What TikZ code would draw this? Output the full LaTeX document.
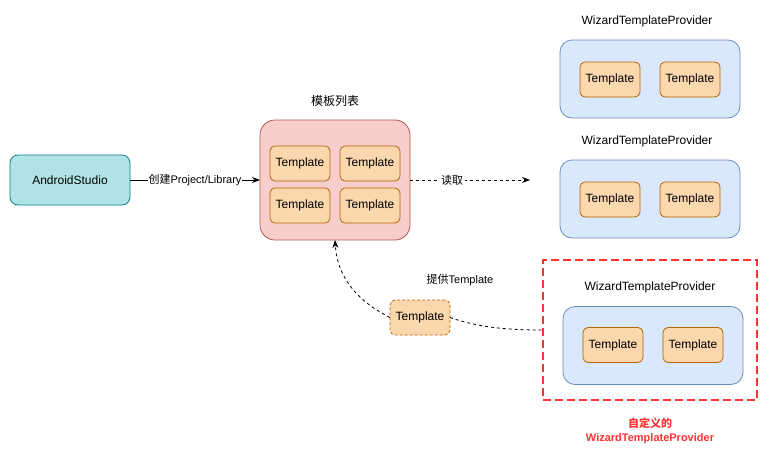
\documentclass[tikz,border=0pt]{standalone}
\usepackage{fontspec}
\setmainfont{Liberation Sans}
\newfontfamily\cjk{Noto Sans CJK SC}
\usetikzlibrary{arrows.meta}
\definecolor{asfill}{HTML}{B0E3E6}
\definecolor{asline}{HTML}{0E8088}
\definecolor{lsfill}{HTML}{F8CECC}
\definecolor{lsline}{HTML}{B85450}
\definecolor{tpfill}{HTML}{FAD7AC}
\definecolor{tpline}{HTML}{B46504}
\definecolor{pvfill}{HTML}{DAE8FC}
\definecolor{pvline}{HTML}{6C8EBF}
\definecolor{redc}{HTML}{FF3333}
\tikzset{
  every node/.style={inner sep=0pt, outer sep=0pt},
  tpl/.style={draw=tpline, fill=tpfill, rounded corners=5pt, minimum width=60pt, minimum height=35pt, font=\fontsize{12pt}{14pt}\selectfont, line width=0.8pt},
  prov/.style={draw=pvline, fill=pvfill, rounded corners=12pt, minimum width=180pt, minimum height=78pt, line width=0.8pt},
  ttl/.style={font=\fontsize{12pt}{14pt}\selectfont},
  lbl/.style={font=\fontsize{11pt}{13pt}\selectfont},
  arr/.style={-{Stealth[length=8pt,width=6pt]}, line width=0.8pt},
}
\begin{document}
\begin{tikzpicture}[x=1pt,y=-1pt]
\useasboundingbox (0,0) rectangle (769,461);
% AndroidStudio
\node[draw=asline, fill=asfill, rounded corners=8pt, minimum width=120pt, minimum height=50pt, line width=0.8pt, font=\fontsize{12pt}{14pt}\selectfont] (as) at (70,180) {AndroidStudio};
% Template list
\node[draw=lsline, fill=lsfill, rounded corners=15pt, minimum width=150pt, minimum height=120pt, line width=0.8pt] (list) at (335,180) {};
\node[ttl] (listttl) at (335,101) {\cjk 模板列表};
\node[tpl] (l1) at (300,163.5) {Template};
\node[tpl] (l2) at (370,163.5) {Template};
\node[tpl] (l3) at (300,205.5) {Template};
\node[tpl] (l4) at (370,205.5) {Template};
% Provider 1
\node[ttl] (p1ttl) at (647,21) {WizardTemplateProvider};
\node[prov] (p1) at (650,79) {};
\node[tpl] (p1a) at (610,79.5) {Template};
\node[tpl] (p1b) at (690,79.5) {Template};
% Provider 2
\node[ttl] (p2ttl) at (647,141) {WizardTemplateProvider};
\node[prov] (p2) at (650,199) {};
\node[tpl] (p2a) at (610,199.5) {Template};
\node[tpl] (p2b) at (690,199.5) {Template};
% Custom provider
\node[draw=redc, dashed, dash pattern=on 8pt off 4pt, line width=1.6pt, minimum width=214pt, minimum height=140pt] (cust) at (650,330) {};
\node[ttl] (p3ttl) at (650,287) {WizardTemplateProvider};
\node[prov] (p3) at (653,345.5) {};
\node[tpl] (p3a) at (613,345) {Template};
\node[tpl] (p3b) at (693,345) {Template};
\node[font=\fontsize{11pt}{13pt}\selectfont\bfseries, text=redc, align=center] (custlbl) at (650,431) {{\cjk\bfseries 自定义的}\\[1pt]WizardTemplateProvider};
% floating template
\node[tpl, dashed, dash pattern=on 3pt off 2pt] (ft) at (420,317.5) {Template};
% read target
\coordinate (rd) at (530,180);
% connectors
\draw[arr] (as.east) -- node[fill=white, lbl, inner sep=1pt] {\cjk 创建\rmfamily Project/Library} (list.west);
\draw[arr, dashed, dash pattern=on 3pt off 3pt] (list.east) -- node[pos=0.35, fill=white, lbl, inner sep=2pt] {\cjk 读取} (rd);
\draw[arr, dashed, dash pattern=on 3pt off 3pt] (ft.west) .. controls (355,300) and (337,275) .. (list.south);
\draw[dashed, dash pattern=on 3pt off 3pt, line width=0.8pt] (ft.east) .. controls (480,328) and (510,330) .. (cust.west);
\node[lbl] (provlbl) at (460,280) {\cjk 提供\rmfamily Template};
\end{tikzpicture}
\end{document}
